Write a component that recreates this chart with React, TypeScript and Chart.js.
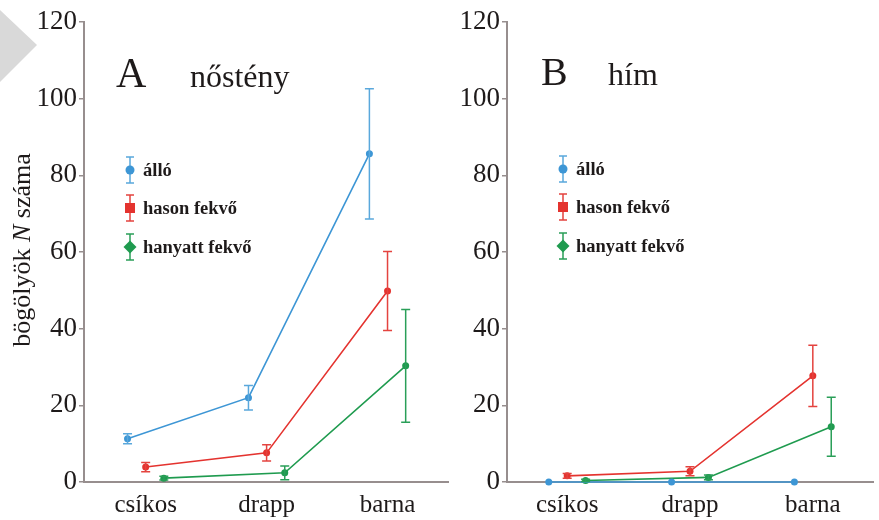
import React, { useEffect, useRef } from 'react';
import { Chart, registerables } from 'chart.js';
Chart.register(...registerables);

const categories = ['csíkos', 'drapp', 'barna'];
const yTickValues = [0, 20, 40, 60, 80, 100, 120];
const seriesNames = ['álló', 'hason fekvő', 'hanyatt fekvő'];
const seriesColors = ['#3d96d5', '#e4332f', '#1f9b4f'];
const errorColors = ['#5aa8dc', '#e4433f', '#2a9f58'];
const seriesOffsets = [-0.15, 0, 0.15];

// A – nőstény
const femaleAllo = [11.3, 22.0, 85.6];
const femaleAlloErr = [1.3, 3.2, 17.0];
const femaleHason = [3.9, 7.6, 49.8];
const femaleHasonErr = [1.2, 2.1, 10.3];
const femaleHanyatt = [1.0, 2.4, 30.3];
const femaleHanyattErr = [0.5, 1.8, 14.7];

// B – hím
const maleAllo = [0, 0, 0];
const maleAlloErr = [0, 0, 0];
const maleHason = [1.6, 2.8, 27.7];
const maleHasonErr = [0.6, 1.2, 8.0];
const maleHanyatt = [0.4, 1.2, 14.4];
const maleHanyattErr = [0.3, 0.6, 7.7];

const SERIF = '"Liberation Serif", "DejaVu Serif", serif';
const AXIS_COLOR = '#978e8e';
const TEXT_COLOR = '#1e1a1a';

type PanelProps = {
  left: number;
  width: number;
  yAxisWidth: number;
  padRight: number;
  xMin: number;
  xMax: number;
  letter: string;
  letterX: number;
  letterSize: number;
  word: string;
  wordX: number;
  titleBaseline: number;
  legendMarkerX: number;
  legendTextX: number;
  legendY: number[];
  values: number[][];
  errors: number[][];
  showYTitle: boolean;
};

const errorBarPlugin = {
  id: 'errorBars',
  afterDatasetsDraw(chart: any) {
    const ctx = chart.ctx;
    const xs = chart.scales.x;
    const ys = chart.scales.y;
    chart.data.datasets.forEach((ds: any) => {
      const errs: number[] = ds.errors;
      if (!errs) return;
      ctx.save();
      ctx.strokeStyle = ds.errorColor;
      ctx.lineWidth = 1.5;
      ds.data.forEach((p: any, i: number) => {
        const e = errs[i];
        if (!e) return;
        const x = xs.getPixelForValue(p.x);
        const yt = ys.getPixelForValue(p.y + e);
        const yb = ys.getPixelForValue(p.y - e);
        ctx.beginPath();
        ctx.moveTo(x, yt);
        ctx.lineTo(x, yb);
        ctx.moveTo(x - 4.5, yt);
        ctx.lineTo(x + 4.5, yt);
        ctx.moveTo(x - 4.5, yb);
        ctx.lineTo(x + 4.5, yb);
        ctx.stroke();
      });
      ctx.restore();
    });
  },
};

function Panel(props: PanelProps) {
  const ref = useRef<HTMLCanvasElement | null>(null);
  useEffect(() => {
    if (!ref.current) return;
    const p = props;
    const decorPlugin = {
      id: 'decor',
      afterDraw(chart: any) {
        const ctx = chart.ctx;
        ctx.save();
        ctx.fillStyle = TEXT_COLOR;
        ctx.textBaseline = 'alphabetic';
        ctx.textAlign = 'left';
        ctx.font = `${p.letterSize}px ${SERIF}`;
        ctx.fillText(p.letter, p.letterX, p.titleBaseline);
        ctx.font = `32px ${SERIF}`;
        ctx.fillText(p.word, p.wordX, p.titleBaseline);

        // legend
        seriesNames.forEach((name, i) => {
          const y = p.legendY[i];
          const x = p.legendMarkerX;
          ctx.strokeStyle = errorColors[i];
          ctx.lineWidth = 1.5;
          ctx.beginPath();
          ctx.moveTo(x, y - 13);
          ctx.lineTo(x, y + 13);
          ctx.moveTo(x - 4, y - 13);
          ctx.lineTo(x + 4, y - 13);
          ctx.moveTo(x - 4, y + 13);
          ctx.lineTo(x + 4, y + 13);
          ctx.stroke();
          ctx.fillStyle = seriesColors[i];
          ctx.beginPath();
          if (i === 0) {
            ctx.arc(x, y, 4.5, 0, Math.PI * 2);
          } else if (i === 1) {
            ctx.rect(x - 5, y - 5, 10, 10);
          } else {
            ctx.moveTo(x, y - 6.5);
            ctx.lineTo(x + 6.5, y);
            ctx.lineTo(x, y + 6.5);
            ctx.lineTo(x - 6.5, y);
            ctx.closePath();
          }
          ctx.fill();
          ctx.fillStyle = TEXT_COLOR;
          ctx.font = `bold 18.5px ${SERIF}`;
          ctx.textBaseline = 'middle';
          ctx.fillText(name, p.legendTextX, y + 1);
        });

        if (p.showYTitle) {
          ctx.save();
          ctx.translate(23, 250);
          ctx.rotate(-Math.PI / 2);
          ctx.textBaseline = 'middle';
          const parts: [string, string][] = [
            ['bögölyök ', `26px ${SERIF}`],
            ['N', `italic 26px ${SERIF}`],
            [' száma', `26px ${SERIF}`],
          ];
          let total = 0;
          parts.forEach(([t, f]) => {
            ctx.font = f;
            total += ctx.measureText(t).width;
          });
          let cx = -total / 2;
          ctx.fillStyle = TEXT_COLOR;
          parts.forEach(([t, f]) => {
            ctx.font = f;
            ctx.fillText(t, cx, 0);
            cx += ctx.measureText(t).width;
          });
          ctx.restore();
        }
        ctx.restore();
      },
    };

    const datasets = p.values.map((vals, si) => ({
      label: seriesNames[si],
      data: vals.map((v, ci) => ({ x: ci + seriesOffsets[si], y: v })),
      errors: p.errors[si],
      errorColor: errorColors[si],
      borderColor: seriesColors[si],
      backgroundColor: seriesColors[si],
      borderWidth: 1.6,
      pointRadius: 3.5,
      pointBorderWidth: 0,
      pointStyle: 'circle',
      clip: false,
      tension: 0,
    }));

    const chart = new Chart(ref.current, {
      type: 'line',
      data: { datasets: datasets as any },
      plugins: [errorBarPlugin, decorPlugin],
      options: {
        animation: false,
        responsive: false,
        maintainAspectRatio: false,
        layout: { padding: { top: 22, right: p.padRight, bottom: 0, left: 0 } },
        plugins: { legend: { display: false }, tooltip: { enabled: false } },
        scales: {
          x: {
            type: 'linear',
            min: p.xMin,
            max: p.xMax,
            afterBuildTicks: (scale: any) => {
              scale.ticks = categories.map((_, i) => ({ value: i }));
            },
            afterFit: (scale: any) => {
              scale.height = 38;
            },
            ticks: {
              autoSkip: false,
              maxRotation: 0,
              padding: 8,
              color: TEXT_COLOR,
              font: { family: SERIF, size: 25, lineHeight: 1.2 },
              callback: (v: any) => categories[Math.round(Number(v))] ?? '',
            },
            grid: { display: false, drawTicks: false },
            border: { display: true, color: AXIS_COLOR, width: 2 },
          },
          y: {
            type: 'linear',
            min: 0,
            max: 120,
            afterBuildTicks: (scale: any) => {
              scale.ticks = yTickValues.map((v) => ({ value: v }));
            },
            afterFit: (scale: any) => {
              scale.width = p.yAxisWidth;
            },
            ticks: {
              padding: 2,
              color: TEXT_COLOR,
              font: { family: SERIF, size: 27, lineHeight: 1.2 },
            },
            grid: {
              drawOnChartArea: false,
              drawTicks: true,
              tickLength: 5,
              color: AXIS_COLOR,
              lineWidth: 1.5,
            },
            border: { display: true, color: AXIS_COLOR, width: 2 },
          },
        },
      } as any,
    });
    return () => chart.destroy();
  }, []);
  return (
    <canvas
      ref={ref}
      width={props.width}
      height={520}
      style={{ position: 'absolute', left: props.left, top: 0, width: props.width, height: 520 }}
    />
  );
}

export default function App() {
  return (
    <div style={{ position: 'absolute', left: 0, top: 0, width: 879, height: 520, background: '#ffffff', overflow: 'hidden' }}>
      <div
        style={{
          position: 'absolute',
          left: 0,
          top: 0,
          width: 40,
          height: 90,
          background: '#d9d9d9',
          clipPath: 'polygon(0px 10px, 37px 45px, 0px 82px)',
        }}
      />
      <Panel
        left={0}
        width={452}
        yAxisWidth={84}
        padRight={2}
        xMin={-0.51}
        xMax={2.5}
        letter="A"
        letterX={116}
        letterSize={42}
        word="nőstény"
        wordX={190}
        titleBaseline={87}
        legendMarkerX={130}
        legendTextX={143}
        legendY={[170, 208, 247]}
        values={[femaleAllo, femaleHason, femaleHanyatt]}
        errors={[femaleAlloErr, femaleHasonErr, femaleHanyattErr]}
        showYTitle={true}
      />
      <Panel
        left={452}
        width={427}
        yAxisWidth={55}
        padRight={6}
        xMin={-0.49}
        xMax={2.49}
        letter="B"
        letterX={89}
        letterSize={40}
        word="hím"
        wordX={156}
        titleBaseline={85}
        legendMarkerX={111}
        legendTextX={124}
        legendY={[169, 207, 246]}
        values={[maleAllo, maleHason, maleHanyatt]}
        errors={[maleAlloErr, maleHasonErr, maleHanyattErr]}
        showYTitle={false}
      />
    </div>
  );
}
